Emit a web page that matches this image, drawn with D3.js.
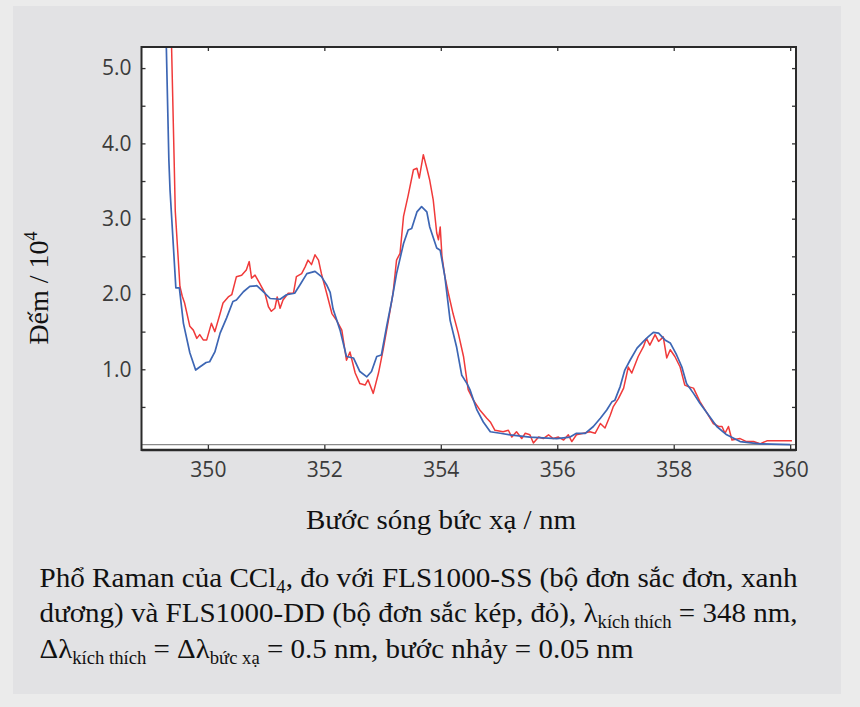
<!DOCTYPE html>
<html><head><meta charset="utf-8">
<script src="https://cdn.jsdelivr.net/npm/d3@7/dist/d3.min.js"></script>
<style>html,body{margin:0;padding:0;background:#ebebeb;} svg{display:block}</style>
</head><body><svg id="c" width="860" height="707"></svg>
<script>
// FLS1000-SS (single monochromator, blue)
const ssWavelength = [349.28,349.33,349.35,349.45,349.51,349.58,349.69,349.79,349.86,349.97,350.03,350.12,350.21,350.32,350.43,350.49,350.61,350.72,350.84,350.95,351.07,351.24,351.35,351.49,351.58,351.70,351.84,351.95,352.04,352.10,352.15,352.27,352.38,352.50,352.61,352.73,352.81,352.90,352.98,353.07,353.16,353.24,353.36,353.44,353.50,353.59,353.67,353.76,353.81,353.93,353.99,354.07,354.16,354.27,354.36,354.45,354.50,354.62,354.73,354.85,355.02,355.19,355.53,355.99,356.22,356.33,356.48,356.62,356.74,356.85,356.94,356.99,357.08,357.16,357.25,357.37,357.48,357.56,357.65,357.74,357.85,357.94,358.05,358.14,358.22,358.34,358.45,358.60,358.74,358.91,359.14,359.48,360.00];
const ssCounts = [5.5,3.78,3.38,2.08,2.08,1.61,1.22,0.99,1.03,1.09,1.10,1.23,1.48,1.68,1.90,1.92,2.03,2.10,2.11,2.03,1.94,1.93,1.99,2.01,2.12,2.27,2.30,2.23,2.12,2.02,1.80,1.52,1.17,1.15,0.97,0.90,0.97,1.17,1.19,1.57,1.92,2.27,2.67,2.85,2.87,3.09,3.16,3.09,2.89,2.61,2.58,2.23,1.65,1.30,0.92,0.81,0.73,0.46,0.30,0.17,0.15,0.13,0.10,0.08,0.10,0.15,0.15,0.24,0.35,0.46,0.57,0.59,0.77,0.99,1.12,1.28,1.37,1.43,1.49,1.48,1.39,1.35,1.19,1.03,0.81,0.68,0.55,0.39,0.24,0.13,0.04,0.01,0.00];

// FLS1000-DD (double monochromator, red)
const ddWavelength = [349.37,349.42,349.44,349.52,349.56,349.60,349.69,349.75,349.81,349.86,349.92,349.98,350.06,350.12,350.21,350.26,350.35,350.41,350.49,350.58,350.66,350.71,350.75,350.81,350.89,350.98,351.04,351.09,351.15,351.19,351.24,351.29,351.38,351.47,351.52,351.61,351.67,351.72,351.78,351.84,351.90,351.95,352.04,352.13,352.21,352.30,352.38,352.44,352.53,352.61,352.70,352.75,352.84,352.93,353.01,353.10,353.18,353.24,353.30,353.36,353.44,353.53,353.59,353.63,353.70,353.76,353.81,353.87,353.93,353.96,353.99,354.02,354.07,354.13,354.21,354.30,354.39,354.47,354.56,354.67,354.79,354.85,354.93,355.07,355.16,355.22,355.30,355.39,355.45,355.53,355.59,355.68,355.76,355.85,355.93,356.02,356.11,356.19,356.25,356.33,356.45,356.56,356.65,356.74,356.82,356.91,356.96,357.05,357.14,357.22,357.28,357.39,357.48,357.53,357.59,357.68,357.74,357.82,357.88,357.94,358.02,358.11,358.19,358.25,358.34,358.45,358.57,358.68,358.77,358.83,358.88,358.94,359.00,359.14,359.25,359.37,359.48,359.57,359.60,360.03];
const ddCounts = [5.5,3.80,3.10,2.10,1.97,1.88,1.57,1.52,1.41,1.46,1.39,1.39,1.61,1.50,1.74,1.88,1.96,1.99,2.23,2.25,2.32,2.43,2.21,2.25,2.14,2.01,1.83,1.77,1.81,1.96,1.81,1.92,2.01,2.01,2.23,2.27,2.36,2.45,2.39,2.52,2.45,2.27,2.01,1.74,1.65,1.52,1.12,1.23,0.95,0.81,0.79,0.86,0.68,0.95,1.26,1.65,2.01,2.45,2.54,3.03,3.31,3.65,3.67,3.54,3.85,3.67,3.51,3.25,2.81,2.72,2.89,2.50,2.23,2.01,1.74,1.48,1.17,0.73,0.59,0.46,0.35,0.30,0.19,0.17,0.19,0.10,0.17,0.08,0.15,0.13,0.02,0.10,0.08,0.13,0.08,0.10,0.06,0.13,0.04,0.13,0.15,0.17,0.15,0.28,0.22,0.39,0.50,0.61,0.75,1.03,0.95,1.17,1.30,1.41,1.32,1.46,1.37,1.43,1.15,1.26,1.17,1.03,0.79,0.77,0.75,0.57,0.42,0.28,0.24,0.24,0.15,0.24,0.06,0.08,0.04,0.04,0.01,0.04,0.05,0.05];

const xTickValues = [350, 352, 354, 356, 358, 360];
const yTickValues = [0.5, 1.0, 1.5, 2.0, 2.5, 3.0, 3.5, 4.0, 4.5, 5.0];
const yLabelValues = [1.0, 2.0, 3.0, 4.0, 5.0];

const svg = d3.select("#c");
const W = 860, H = 707;
svg.append("rect").attr("width", W).attr("height", H).attr("fill", "#ebebeb");
svg.append("rect").attr("x", 13).attr("y", 6).attr("width", 828).attr("height", 688).attr("fill", "#e2e2e4");

const L = 141.5, R = 796, T = 47, B = 450;
const x = d3.scaleLinear().domain([348.86, 360.1]).range([L, R]);
const y = d3.scaleLinear().domain([-0.072, 5.28]).range([B, T]);

svg.append("rect").attr("x", L).attr("y", T).attr("width", R - L).attr("height", B - T).attr("fill", "#ffffff");

svg.append("defs").append("clipPath").attr("id", "clip")
  .append("rect").attr("x", L).attr("y", T).attr("width", R - L).attr("height", B - T);

// zero baseline
svg.append("line").attr("x1", L).attr("x2", R).attr("y1", y(0)).attr("y2", y(0))
  .attr("stroke", "#8a8a8a").attr("stroke-width", 1.2);

const line = d3.line().x(d => x(d[0])).y(d => y(d[1]));
const ss = ssWavelength.map((w, i) => [w, ssCounts[i]]);
const dd = ddWavelength.map((w, i) => [w, ddCounts[i]]);
const g = svg.append("g").attr("clip-path", "url(#clip)");
g.append("path").datum(dd).attr("d", line).attr("fill", "none").attr("stroke", "#f03a3a").attr("stroke-width", 1.5).attr("stroke-linejoin", "round");
g.append("path").datum(ss).attr("d", line).attr("fill", "none").attr("stroke", "#3d66b4").attr("stroke-width", 1.7).attr("stroke-linejoin", "round");

const tickFont = "'Open Sans', 'Noto Sans', sans-serif";
const fmt = d => yLabelValues.includes(d) ? d3.format(".1f")(d) : "";

const ax = svg.append("g").attr("transform", `translate(0,${B})`)
  .call(d3.axisBottom(x).tickValues(xTickValues).tickSizeInner(-5).tickSizeOuter(0).tickPadding(12).tickFormat(d3.format("d")));
const axT = svg.append("g").attr("transform", `translate(0,${T})`)
  .call(d3.axisTop(x).tickValues(xTickValues).tickSizeInner(-4).tickSizeOuter(0).tickFormat(""));
const ay = svg.append("g").attr("transform", `translate(${L},0)`)
  .call(d3.axisLeft(y).tickValues(yTickValues).tickSizeInner(-4).tickSizeOuter(0).tickPadding(10).tickFormat(fmt));
const ayR = svg.append("g").attr("transform", `translate(${R},0)`)
  .call(d3.axisRight(y).tickValues(yTickValues).tickSizeInner(-4).tickSizeOuter(0).tickFormat(""));
[ax, axT, ay, ayR].forEach(a => {
  a.select(".domain").remove();
  a.selectAll(".tick line").attr("stroke", "#333").attr("stroke-width", 1.3);
  a.selectAll(".tick text").attr("fill", "#3b3b3b").style("font-family", tickFont).style("font-size", "21px");
});

// frame
svg.append("rect").attr("x", L).attr("y", T).attr("width", R - L).attr("height", B - T)
  .attr("fill", "none").attr("stroke", "#2a2a2a").attr("stroke-width", 2);
svg.append("line").attr("x1", L).attr("x2", R).attr("y1", B).attr("y2", B).attr("stroke", "#2a2a2a").attr("stroke-width", 2.5);

const serif = "'Liberation Serif', 'Times New Roman', serif";
// axis titles
svg.append("text").attr("x", 441).attr("y", 529).attr("text-anchor", "middle")
  .style("font-family", serif).style("font-size", "28px").attr("fill", "#111")
  .attr("textLength", 270).attr("lengthAdjust", "spacingAndGlyphs")
  .text("Bước sóng bức xạ / nm");

const yt = svg.append("text").attr("transform", "translate(48,288) rotate(-90)").attr("text-anchor", "middle")
  .style("font-family", serif).style("font-size", "28px").attr("fill", "#111");
yt.append("tspan").text("Đếm / 10");
yt.append("tspan").attr("dy", -11).style("font-size", "18px").text("4");

// caption
const cap = svg.append("g").style("font-family", serif).style("font-size", "28px").attr("fill", "#111");
const sub = (t, s) => { t.append("tspan").attr("dy", 6).style("font-size", "18px").text(s); };
const norm = (t, s) => { t.append("tspan").attr("dy", -6).text(s); };

const l1 = cap.append("text").attr("x", 39.5).attr("y", 587).attr("textLength", 758).attr("lengthAdjust", "spacingAndGlyphs");
l1.append("tspan").text("Phổ Raman của CCl");
sub(l1, "4");
norm(l1, ", đo với FLS1000-SS (bộ đơn sắc đơn, xanh");

const l2 = cap.append("text").attr("x", 39.5).attr("y", 622).attr("textLength", 758).attr("lengthAdjust", "spacingAndGlyphs");
l2.append("tspan").text("dương) và FLS1000-DD (bộ đơn sắc kép, đỏ), λ");
sub(l2, "kích thích");
norm(l2, " = 348 nm,");

const l3 = cap.append("text").attr("x", 39.5).attr("y", 658).attr("textLength", 594).attr("lengthAdjust", "spacingAndGlyphs");
l3.append("tspan").text("Δλ");
sub(l3, "kích thích");
norm(l3, " = Δλ");
sub(l3, "bức xạ");
norm(l3, " = 0.5 nm, bước nhảy = 0.05 nm");
</script></body></html>
